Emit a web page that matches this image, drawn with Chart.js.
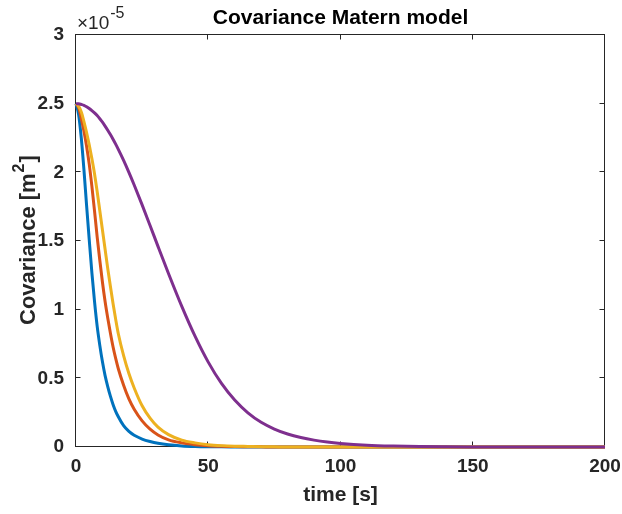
<!DOCTYPE html>
<html>
<head>
<meta charset="utf-8">
<script src="https://cdn.jsdelivr.net/npm/chart.js@4.4.1/dist/chart.umd.min.js"></script>
<style>
  html, body { margin: 0; padding: 0; background: #ffffff; }
  #wrap { width: 622px; height: 514px; }
</style>
</head>
<body>
<div id="wrap"><canvas id="c" width="622" height="514"></canvas></div>
<script>
// ---- data (covariance values in units of 1e-5 m^2) ----
const time = [0,1,2,3,4,5,6,7,8,9,10,11,12,13,14,15,16,18,20,22,25,28,31,35,40,45,50,55,60,65,70,75,80,85,90,95,100,110,120,130,140,150,160,170,180,190,200];
const covBlue   = [2.50,2.42,2.25,2.02,1.76,1.51,1.27,1.06,0.88,0.74,0.62,0.52,0.44,0.37,0.31,0.26,0.22,0.155,0.113,0.085,0.058,0.04,0.027,0.016,0.008,0.004,0.002,0.001,0.0005,0,0,0,0,0,0,0,0,0,0,0,0,0,0,0,0,0,0];
const covOrange = [2.50,2.47,2.39,2.30,2.19,2.06,1.90,1.72,1.53,1.36,1.20,1.06,0.94,0.83,0.73,0.645,0.57,0.45,0.35,0.275,0.19,0.13,0.088,0.052,0.03,0.017,0.009,0.005,0.003,0.002,0.001,0,0,0,0,0,0,0,0,0,0,0,0,0,0,0,0];
const covYellow = [2.50,2.48,2.44,2.37,2.29,2.20,2.10,1.99,1.86,1.72,1.58,1.44,1.30,1.17,1.045,0.93,0.825,0.665,0.535,0.43,0.30,0.21,0.145,0.09,0.05,0.03,0.017,0.01,0.006,0.004,0.002,0.001,0,0,0,0,0,0,0,0,0,0,0,0,0,0,0];
const covPurple = [2.500,2.499,2.494,2.488,2.478,2.465,2.450,2.433,2.413,2.390,2.365,2.337,2.307,2.275,2.241,2.205,2.167,2.087,2.000,1.908,1.763,1.613,1.461,1.262,1.024,0.807,0.618,0.463,0.342,0.249,0.180,0.131,0.095,0.069,0.050,0.036,0.026,0.013,0.0065,0.003,0.0015,0.0007,0.0003,0,0,0,0];
const xTicks = [0,50,100,150,200];
const yTicks = [0,0.5,1,1.5,2,2.5,3];
const titleText = 'Covariance Matern model';
const xLabel = 'time [s]';
const yLabelMain = 'Covariance [m';
const yLabelSup = '2';
const yLabelEnd = ']';
const exponentBase = '×10';
const exponentPow = '-5';

const FONT = '"Liberation Sans", Arial, Helvetica, sans-serif';
const AXC = '#262626';

function pts(vals) { return time.map((t, i) => ({ x: t, y: vals[i] })); }

const series = [
  { label: 'blue',   data: covBlue,   color: '#0072BD', order: 4 },
  { label: 'orange', data: covOrange, color: '#D95319', order: 3 },
  { label: 'yellow', data: covYellow, color: '#EDB120', order: 2 },
  { label: 'purple', data: covPurple, color: '#7E2F8E', order: 1 }
];

const frame = {
  id: 'frame',
  beforeDatasetsDraw(chart) {
    const { ctx, chartArea: a, scales: { x, y } } = chart;
    ctx.save();
    ctx.strokeStyle = AXC;
    ctx.lineWidth = 1;
    const L = a.left - 0.5, R = a.right - 0.5, T = a.top - 0.5, B = a.bottom - 0.5;
    ctx.strokeRect(L, T, R - L, B - T);
    const tl = 5;
    ctx.beginPath();
    xTicks.forEach(v => {
      const px = Math.round(x.getPixelForValue(v)) - 0.5;
      ctx.moveTo(px, B); ctx.lineTo(px, B - tl);
      ctx.moveTo(px, T); ctx.lineTo(px, T + tl);
    });
    yTicks.forEach(v => {
      const py = Math.round(y.getPixelForValue(v)) - 0.5;
      ctx.moveTo(L, py); ctx.lineTo(L + tl, py);
      ctx.moveTo(R, py); ctx.lineTo(R - tl, py);
    });
    ctx.stroke();
    ctx.restore();
  },
  afterDraw(chart) {
    const { ctx, chartArea: a } = chart;
    ctx.save();
    ctx.fillStyle = '#000000';
    ctx.textAlign = 'center';
    ctx.textBaseline = 'alphabetic';
    ctx.font = 'bold 21px ' + FONT;
    ctx.fillText(titleText, (a.left + a.right) / 2, 24);
    ctx.fillStyle = AXC;
    ctx.fillText(xLabel, (a.left + a.right) / 2, 501);
    // y label, rotated, with superscript
    ctx.save();
    ctx.translate(35, 325);
    ctx.rotate(-Math.PI / 2);
    ctx.textAlign = 'left';
    ctx.font = 'bold 22px ' + FONT;
    ctx.fillText(yLabelMain, 0, 0);
    let off = ctx.measureText(yLabelMain).width;
    ctx.font = 'bold 16px ' + FONT;
    ctx.fillText(yLabelSup, off + 1, -11);
    off += ctx.measureText(yLabelSup).width + 2;
    ctx.font = 'bold 22px ' + FONT;
    ctx.fillText(yLabelEnd, off, 0);
    ctx.restore();
    // exponent label
    ctx.textAlign = 'left';
    ctx.font = '19px ' + FONT;
    ctx.fillText(exponentBase, a.left + 1, 29);
    const w = ctx.measureText(exponentBase).width;
    ctx.font = '16px ' + FONT;
    ctx.fillText(exponentPow, a.left + w + 2, 18);
    ctx.restore();
  }
};

new Chart(document.getElementById('c'), {
  type: 'line',
  data: {
    datasets: series.map(s => ({
      label: s.label,
      data: pts(s.data),
      borderColor: s.color,
      backgroundColor: s.color,
      borderWidth: 3,
      pointRadius: 0,
      fill: false,
      cubicInterpolationMode: 'monotone',
      order: s.order,
      clip: 6
    }))
  },
  options: {
    responsive: false,
    animation: false,
    devicePixelRatio: 1,
    layout: { padding: { left: 0, right: 17, top: 35, bottom: 0 } },
    plugins: { legend: { display: false }, tooltip: { enabled: false }, title: { display: false } },
    scales: {
      x: {
        type: 'linear', min: 0, max: 200,
        afterBuildTicks: s => { s.ticks = xTicks.map(v => ({ value: v })); },
        afterFit: s => { s.height = 67; s.paddingLeft = 0; s.paddingRight = 0; },
        grid: { display: false, drawTicks: false },
        border: { display: false },
        ticks: { color: AXC, padding: 8, maxRotation: 0, font: { family: FONT, size: 19, weight: 'bold' },
                 callback: v => String(v) }
      },
      y: {
        type: 'linear', min: 0, max: 3,
        afterBuildTicks: s => { s.ticks = yTicks.map(v => ({ value: v })); },
        afterFit: s => { s.width = 76; s.paddingTop = 0; s.paddingBottom = 0; },
        grid: { display: false, drawTicks: false },
        border: { display: false },
        ticks: { color: AXC, padding: 12, font: { family: FONT, size: 19, weight: 'bold' },
                 callback: v => String(v) }
      }
    }
  },
  plugins: [frame]
});
</script>
</body>
</html>
